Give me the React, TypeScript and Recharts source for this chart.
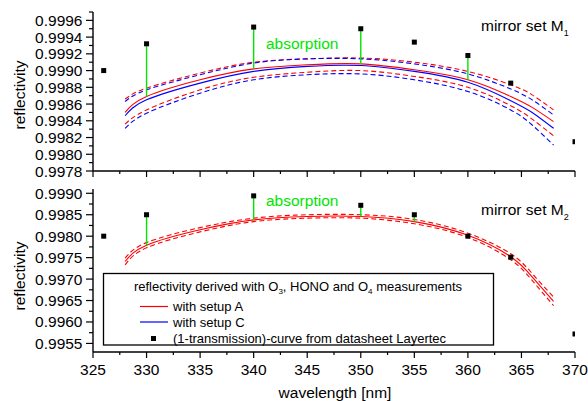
import React from 'react';
import { ComposedChart, Line, Scatter, XAxis, YAxis, ReferenceLine } from 'recharts';

const FONT = '"Liberation Sans", Arial, sans-serif';
const GREEN = '#00e600';

const wavelengths = [328, 330, 335, 340, 345, 350, 355, 360, 364, 366, 368];

// mirror set M1 fits
const m1RedFit = [0.9985, 0.99869, 0.99889, 0.99902, 0.99907, 0.99908, 0.99901, 0.99889, 0.99869, 0.99856, 0.99839];
const m1RedUpper = [0.99866, 0.99879, 0.99897, 0.9991, 0.99914, 0.99915, 0.9991, 0.99899, 0.99883, 0.99871, 0.99853];
const m1RedLower = [0.99836, 0.99853, 0.99877, 0.99892, 0.99898, 0.999, 0.99893, 0.9988, 0.99858, 0.99842, 0.99822];
const m1BlueFit = [0.99846, 0.99865, 0.99885, 0.99899, 0.99905, 0.99906, 0.99899, 0.99886, 0.99864, 0.9985, 0.99831];
const m1BlueUpper = [0.99863, 0.99877, 0.99895, 0.99909, 0.99914, 0.99914, 0.99908, 0.99896, 0.99878, 0.99865, 0.99847];
const m1BlueLower = [0.99831, 0.99849, 0.99873, 0.99889, 0.99895, 0.99896, 0.99889, 0.99875, 0.99853, 0.99835, 0.99811];

// mirror set M2 fits
const m2RedFit = [0.99741, 0.99779, 0.99815, 0.99838, 0.99846, 0.99846, 0.99834, 0.99802, 0.99752, 0.99705, 0.99648];
const m2RedUpper = [0.99749, 0.99785, 0.9982, 0.99842, 0.9985, 0.9985, 0.99839, 0.99807, 0.99759, 0.99713, 0.99658];
const m2RedLower = [0.99733, 0.99773, 0.9981, 0.99834, 0.99842, 0.99842, 0.99829, 0.99797, 0.99745, 0.99697, 0.99638];

// (1-transmission) from Layertec datasheet
const layertecWl = [326, 330, 340, 350, 355, 360, 364, 370];
const m1Layertec = [0.999, 0.99932, 0.99952, 0.9995, 0.99934, 0.99918, 0.99885, 0.99815];
const m2Layertec = [0.998, 0.9985, 0.99894, 0.99872, 0.9985, 0.998, 0.99751, 0.99572];

// absorption gaps
const m1AbsWl = [330, 340, 350, 360];
const m1AbsTop = [0.99932, 0.99952, 0.9995, 0.99918];
const m1AbsBottom = [0.99869, 0.99902, 0.99908, 0.99889];
const m2AbsWl = [330, 340, 350, 355];
const m2AbsTop = [0.9985, 0.99894, 0.99872, 0.9985];
const m2AbsBottom = [0.99779, 0.99838, 0.99846, 0.99834];

// ticks
const xMajor = [325, 330, 335, 340, 345, 350, 355, 360, 365, 370];
const xMinor = [327.5, 332.5, 337.5, 342.5, 347.5, 352.5, 357.5, 362.5, 367.5];
const m1YMajor = [0.9978, 0.998, 0.9982, 0.9984, 0.9986, 0.9988, 0.999, 0.9992, 0.9994, 0.9996];
const m1YMinor = [0.9979, 0.9981, 0.9983, 0.9985, 0.9987, 0.9989, 0.9991, 0.9993, 0.9995, 0.9997];
const m2YMajor = [0.9955, 0.996, 0.9965, 0.997, 0.9975, 0.998, 0.9985, 0.999];
const m2YMinor = [0.99575, 0.99625, 0.99675, 0.99725, 0.99775, 0.99825, 0.99875];

const isMajor = (v: number, list: number[]) => list.some((t) => Math.abs(t - v) < 1e-7);

const XTick = ({ x, y, payload, showLabel }: any) => {
  const major = isMajor(payload.value, xMajor);
  return (
    <g>
      <line x1={x} x2={x} y1={y} y2={y + (major ? 6 : 3)} stroke="#000" strokeWidth={1.2} />
      {showLabel && major && (
        <text x={x} y={y + 22.5} textAnchor="middle" fontSize={15.5} fontFamily={FONT} fill="#000">
          {payload.value}
        </text>
      )}
    </g>
  );
};

const YTick = ({ x, y, payload, majors }: any) => {
  const major = isMajor(payload.value, majors);
  return (
    <g>
      <line x1={x - (major ? 7 : 4)} x2={x} y1={y} y2={y} stroke="#000" strokeWidth={1.2} />
      {major && (
        <text x={x - 10.5} y={y + 5.5} textAnchor="end" fontSize={15.5} fontFamily={FONT} fill="#000">
          {payload.value.toFixed(4)}
        </text>
      )}
    </g>
  );
};

const Square = (p: any) => <rect x={p.cx - 2.5} y={p.cy - 2.5} width={5} height={5} fill="#000" />;

const m1Rows = wavelengths.map((wl, i) => ({
  wl,
  redFit: m1RedFit[i],
  redUpper: m1RedUpper[i],
  redLower: m1RedLower[i],
  blueFit: m1BlueFit[i],
  blueUpper: m1BlueUpper[i],
  blueLower: m1BlueLower[i],
}));
const m2Rows = wavelengths.map((wl, i) => ({
  wl,
  redFit: m2RedFit[i],
  redUpper: m2RedUpper[i],
  redLower: m2RedLower[i],
}));
const m1Points = layertecWl.map((wl, i) => ({ wl, r: m1Layertec[i] }));
const m2Points = layertecWl.map((wl, i) => ({ wl, r: m2Layertec[i] }));

const curve = (key: string, color: string, dashed: boolean) => (
  <Line
    key={key}
    type="natural"
    dataKey={key}
    stroke={color}
    strokeWidth={1.1}
    strokeDasharray={dashed ? '5 3' : undefined}
    dot={false}
    activeDot={false}
    isAnimationActive={false}
  />
);

const axisLine = { stroke: '#000', strokeWidth: 1.4 };

export default function App() {
  return (
    <div style={{ position: 'absolute', left: 0, top: 0, width: 588, height: 401, background: '#fff', fontFamily: FONT }}>
      <div style={{ position: 'absolute', left: 0, top: 0 }}>
        <ComposedChart width={588} height={180} data={m1Rows} margin={{ top: 12, right: 13, bottom: 0, left: 0 }}>
          <XAxis
            type="number"
            dataKey="wl"
            domain={[325, 370]}
            ticks={[...xMajor, ...xMinor]}
            interval={0}
            allowDataOverflow
            height={9}
            axisLine={axisLine}
            tickLine={false}
            tickSize={0}
            tickMargin={0}
            tick={(p: any) => <XTick {...p} showLabel={false} />}
          />
          <YAxis
            type="number"
            domain={[0.9978, 0.9997]}
            ticks={[...m1YMajor, ...m1YMinor]}
            interval={0}
            allowDataOverflow
            width={93}
            axisLine={axisLine}
            tickLine={false}
            tickSize={0}
            tickMargin={0}
            tick={(p: any) => <YTick {...p} majors={m1YMajor} />}
          />
          {curve('redUpper', '#ff0000', true)}
          {curve('redLower', '#ff0000', true)}
          {curve('blueUpper', '#0000ff', true)}
          {curve('blueLower', '#0000ff', true)}
          {curve('redFit', '#ff0000', false)}
          {curve('blueFit', '#0000ff', false)}
          {m1AbsWl.map((wl, i) => (
            <ReferenceLine
              key={wl}
              segment={[{ x: wl, y: m1AbsTop[i] }, { x: wl, y: m1AbsBottom[i] }]}
              stroke={GREEN}
              strokeWidth={1.4}
            />
          ))}
          <Scatter data={m1Points} dataKey="r" fill="#000" shape={Square} isAnimationActive={false} />
        </ComposedChart>
      </div>
      <div style={{ position: 'absolute', left: 0, top: 180 }}>
        <ComposedChart width={588} height={221} data={m2Rows} margin={{ top: 9, right: 13, bottom: 0, left: 0 }}>
          <XAxis
            type="number"
            dataKey="wl"
            domain={[325, 370]}
            ticks={[...xMajor, ...xMinor]}
            interval={0}
            allowDataOverflow
            height={49}
            axisLine={axisLine}
            tickLine={false}
            tickSize={0}
            tickMargin={0}
            tick={(p: any) => <XTick {...p} showLabel />}
          />
          <YAxis
            type="number"
            domain={[0.9953, 0.9991]}
            ticks={[...m2YMajor, ...m2YMinor]}
            interval={0}
            allowDataOverflow
            width={93}
            axisLine={axisLine}
            tickLine={false}
            tickSize={0}
            tickMargin={0}
            tick={(p: any) => <YTick {...p} majors={m2YMajor} />}
          />
          {curve('redUpper', '#ff0000', true)}
          {curve('redLower', '#ff0000', true)}
          {curve('redFit', '#ff0000', false)}
          {m2AbsWl.map((wl, i) => (
            <ReferenceLine
              key={wl}
              segment={[{ x: wl, y: m2AbsTop[i] }, { x: wl, y: m2AbsBottom[i] }]}
              stroke={GREEN}
              strokeWidth={1.4}
            />
          ))}
          <Scatter data={m2Points} dataKey="r" fill="#000" shape={Square} isAnimationActive={false} />
        </ComposedChart>
      </div>
      <svg
        width={588}
        height={401}
        style={{ position: 'absolute', left: 0, top: 0, pointerEvents: 'none' }}
        fontFamily={FONT}
      >
        <text x={266} y={49} fontSize={15.5} fill={GREEN}>absorption</text>
        <text x={266} y={206} fontSize={15.5} fill={GREEN}>absorption</text>
        <text x={481} y={31} fontSize={15.5} fill="#000">
          mirror set M<tspan fontSize={9} dy={5}>1</tspan>
        </text>
        <text x={481} y={215} fontSize={15.5} fill="#000">
          mirror set M<tspan fontSize={9} dy={5}>2</tspan>
        </text>
        <text transform="translate(25,95) rotate(-90)" textAnchor="middle" fontSize={15.5} fill="#000">reflectivity</text>
        <text transform="translate(25,276) rotate(-90)" textAnchor="middle" fontSize={15.5} fill="#000">reflectivity</text>
        <text x={335} y={398} textAnchor="middle" fontSize={15.5} fill="#000">wavelength [nm]</text>

        <rect x={103.5} y={273.5} width={390} height={71.5} fill="#fff" stroke="#000" strokeWidth={1.3} />
        <text x={298} y={291} textAnchor="middle" fontSize={13} fill="#000">
          reflectivity derived with O<tspan fontSize={8} dy={3}>3</tspan>
          <tspan dy={-3}>, HONO and O</tspan>
          <tspan fontSize={8} dy={3}>4</tspan>
          <tspan dy={-3}> measurements</tspan>
        </text>
        <line x1={140} x2={168} y1={306.5} y2={306.5} stroke="#ff0000" strokeWidth={1.2} />
        <text x={173} y={311} fontSize={13} fill="#000">with setup A</text>
        <line x1={140} x2={168} y1={322} y2={322} stroke="#0000ff" strokeWidth={1.2} />
        <text x={173} y={326.5} fontSize={13} fill="#000">with setup C</text>
        <rect x={151} y={336} width={5} height={5} fill="#000" />
        <text x={173} y={342.5} fontSize={13} fill="#000">(1-transmission)-curve from datasheet Layertec</text>
      </svg>
    </div>
  );
}
